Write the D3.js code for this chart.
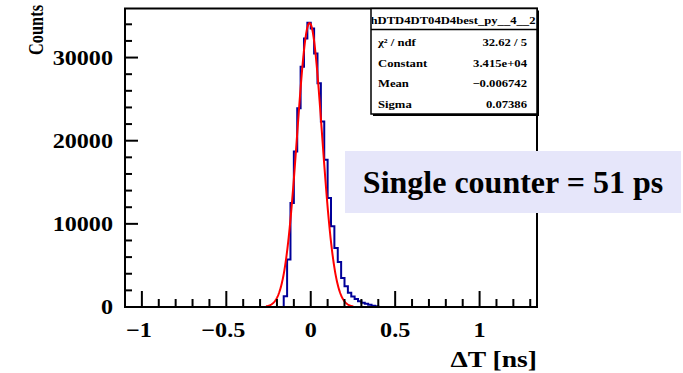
<!DOCTYPE html>
<html><head><meta charset="utf-8">
<script src="https://cdn.jsdelivr.net/npm/d3@7"></script>
<style>body{margin:0;background:#fff}svg{display:block}text{font-family:"Liberation Serif","Times New Roman",serif;font-weight:bold}</style>
</head><body><svg id="c" width="683" height="373"></svg>
<script>
// ---- data ----
const binWidth = 0.02;
const binLow = [-0.16,-0.14,-0.12,-0.10,-0.08,-0.06,-0.04,-0.02,0.00,0.02,0.04,0.06,0.08,0.10,0.12,0.14,0.16,0.18,0.20,0.22,0.24,0.26,0.28,0.30,0.32,0.34,0.36,0.38];
const counts = [1300,5700,12500,18700,23900,28900,32300,34200,33500,30500,26900,22300,17700,13100,9700,7100,5400,3500,2500,1700,1250,950,680,520,400,280,160,80];
const xRange = [-1.1, 1.34];
const yRange = [0, 35900];
const xMajor = [-1,-0.5,0,0.5,1];
const xMajorLabels = ["\u22121","\u22120.5","0","0.5","1"];
const yMajor = [0,10000,20000,30000];
const yMajorLabels = ["0","10000","20000","30000"];
const fitParams = {constant:34150, mean:-0.006742, sigma:0.07386};
const fitRange = [-0.265, 0.252];
const statsTitle = "hDTD4DT04D4best_py__4__2";
const statsNames = ["\u03C7\u00B2 / ndf","Constant","Mean","Sigma"];
const statsValues = ["32.62 / 5","3.415e+04","\u22120.006742","0.07386"];
const annotation = "Single counter = 51 ps";

// ---- layout ----
const SX = 1.15; // horizontal stretch of text glyphs
const svg = d3.select("#c");
const L=125, R=537, T=8.5, B=307;
const x = d3.scaleLinear().domain(xRange).range([L,R]);
const y = d3.scaleLinear().domain(yRange).range([B,T]);

function txt(px, py, s, size, anchor){
  return svg.append("text").attr("transform",`translate(${px},${py}) scale(${SX},1)`)
    .attr("text-anchor",anchor||"start").attr("font-size",size).text(s);
}

// histogram outline (step)
const pts = [[xRange[0],0],[binLow[0],0]];
binLow.forEach((b,i)=>{pts.push([b,counts[i]]);pts.push([b+binWidth,counts[i]]);});
pts.push([binLow[binLow.length-1]+binWidth,0]);
pts.push([xRange[1],0]);
svg.append("path").attr("d", d3.line().x(d=>x(d[0])).y(d=>y(d[1]))(pts))
  .attr("fill","none").attr("stroke","#000099").attr("stroke-width",2);

// fit curve
const g = t => fitParams.constant*Math.exp(-0.5*Math.pow((t-fitParams.mean)/fitParams.sigma,2));
const fx = d3.range(fitRange[0], fitRange[1]+1e-9, (fitRange[1]-fitRange[0])/200);
svg.append("path").attr("d", d3.line().x(d=>x(d)).y(d=>y(g(d)))(fx))
  .attr("fill","none").attr("stroke","#ff0000").attr("stroke-width",2);

// frame
svg.append("rect").attr("x",L).attr("y",T).attr("width",R-L).attr("height",B-T)
  .attr("fill","none").attr("stroke","#000").attr("stroke-width",2);

// x ticks (inward)
const xMinor = d3.range(-11,14).map(k=>k/10);
svg.append("g").selectAll("line").data(xMinor).join("line")
  .attr("x1",d=>x(d)).attr("x2",d=>x(d)).attr("y1",B).attr("y2",d=>xMajor.some(m=>Math.abs(m-d)<1e-9)?B-16:B-8)
  .attr("stroke","#000").attr("stroke-width",2);
xMajor.forEach((d,i)=>txt(x(d)-(d<0?3:0), 337, xMajorLabels[i], 21, "middle"));

// y ticks
const yMinor = d3.range(0,36000,2000);
svg.append("g").selectAll("line").data(yMinor).join("line")
  .attr("y1",d=>y(d)).attr("y2",d=>y(d)).attr("x1",L).attr("x2",d=>d%10000===0?L+13:L+7)
  .attr("stroke","#000").attr("stroke-width",2);
yMajor.forEach((d,i)=>txt(113, y(d)+7, yMajorLabels[i], 21, "end"));

// axis titles
svg.append("text").attr("transform",`translate(43,5) rotate(-90) scale(0.86,1.12)`).attr("text-anchor","end")
  .attr("font-size",19).text("Counts");
txt(R, 367, "\u0394T [ns]", 24, "end");

// stats box
const sx=371, sy=T, sw=R-371, sh=114-T;
svg.append("rect").attr("x",sx+2).attr("y",sy+2).attr("width",sw).attr("height",sh).attr("fill","#000");
svg.append("rect").attr("x",sx).attr("y",sy).attr("width",sw).attr("height",sh).attr("fill","#fff").attr("stroke","#000").attr("stroke-width",1.5);
svg.append("line").attr("x1",sx).attr("x2",sx+sw).attr("y1",29.5).attr("y2",29.5).attr("stroke","#000").attr("stroke-width",1.5);
svg.append("clipPath").attr("id","sc").append("rect").attr("x",sx+1).attr("y",sy).attr("width",sw-2).attr("height",22);
svg.append("g").attr("clip-path","url(#sc)").append("text")
  .attr("transform",`translate(${sx+sw/2-1},24) scale(${SX},1)`).attr("text-anchor","middle").attr("font-size",11).text(statsTitle);
statsNames.forEach((n,i)=>{
  txt(378, 46+i*20.7, n, 11, "start");
  txt(527, 46+i*20.7, statsValues[i], 11, "end");
});

// annotation box
svg.append("rect").attr("x",345).attr("y",151).attr("width",336).attr("height",62).attr("fill","#e6e6fa");
svg.append("text").attr("x",513).attr("y",193).attr("text-anchor","middle").attr("font-size",32).text(annotation);
</script></body></html>
